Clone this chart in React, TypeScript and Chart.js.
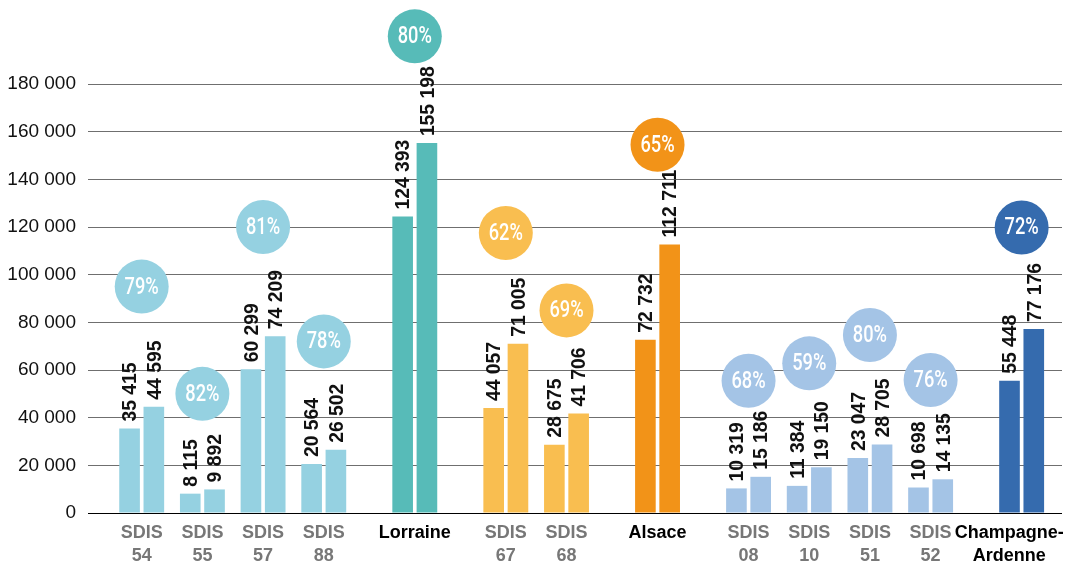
import React, { useEffect, useRef } from "react";
import { Chart, registerables } from "chart.js";

Chart.register(...registerables);

// ---- data ----
const categories = [
  "SDIS 54", "SDIS 55", "SDIS 57", "SDIS 88", "Lorraine",
  "SDIS 67", "SDIS 68", "Alsace",
  "SDIS 08", "SDIS 10", "SDIS 51", "SDIS 52", "Champagne-Ardenne",
];
const NB = "\u00A0";
const axisLabels: string[][] = [
  ["SDIS", "54"], ["SDIS", "55"], ["SDIS", "57"], ["SDIS", "88"], ["Lorraine"],
  ["SDIS", "67"], ["SDIS", "68"], ["Alsace"],
  ["SDIS", "08"], ["SDIS", "10"], ["SDIS", "51"], ["SDIS", "52"],
  ["Champagne-" + NB.repeat(5), "Ardenne" + NB.repeat(5)],
];
const isRegion = [false, false, false, false, true, false, false, true, false, false, false, false, true];
const seriesA = [35415, 8115, 60299, 20564, 124393, 44057, 28675, 72732, 10319, 11384, 23047, 10698, 55448];
const seriesB = [44595, 9892, 74209, 26502, 155198, 71005, 41706, 112711, 15186, 19150, 28705, 14135, 77176];
const rates = [79, 82, 81, 78, 80, 62, 69, 65, 68, 59, 80, 76, 72];
const bubbleLevels = [95000, 50000, 120000, 72000, 200000, 117500, 85000, 154500, 55500, 62800, 74700, 55800, 119800];
const yTickValues = [0, 20000, 40000, 60000, 80000, 100000, 120000, 140000, 160000, 180000];

// ---- layout / style ----
const slots = [0, 2, 4, 6, 9, 12, 14, 17, 20, 22, 24, 26, 29];
const groupColors = [
  "#95D1E1", "#95D1E1", "#95D1E1", "#95D1E1", "#57BBB8",
  "#F9BE50", "#F9BE50", "#F29318",
  "#A4C4E6", "#A4C4E6", "#A4C4E6", "#A4C4E6", "#356BAE",
];
const FONT = "'Liberation Sans', Arial, sans-serif";

const fmt = (v: number) => String(v).replace(/\B(?=(\d{3})+(?!\d))/g, " ");

const zeroPadding = (scale: any) => {
  scale.paddingTop = 0;
  scale.paddingBottom = 0;
  scale.paddingLeft = 0;
  scale.paddingRight = 0;
};

const overlayPlugin = {
  id: "overlay",
  afterDatasetsDraw(chart: any) {
    const ctx = chart.ctx as CanvasRenderingContext2D;
    const xs = chart.scales.x;
    const ys = chart.scales.y;
    // value labels
    ctx.save();
    ctx.fillStyle = "#111";
    ctx.font = `bold 21px ${FONT}`;
    ctx.textAlign = "left";
    ctx.textBaseline = "middle";
    chart.data.datasets.forEach((ds: any, di: number) => {
      const meta = chart.getDatasetMeta(di);
      meta.data.forEach((bar: any, i: number) => {
        const v = ds.data[i].y;
        ctx.save();
        ctx.translate(bar.x + 1, bar.y - 7);
        ctx.rotate(-Math.PI / 2);
        ctx.scale(0.92, 1);
        ctx.fillText(fmt(v), 0, 0);
        ctx.restore();
      });
    });
    ctx.restore();
    // bubbles
    ctx.save();
    slots.forEach((s, i) => {
      const cx = xs.getPixelForValue(s);
      const cy = ys.getPixelForValue(bubbleLevels[i]);
      ctx.beginPath();
      ctx.arc(cx, cy, 27, 0, Math.PI * 2);
      ctx.fillStyle = groupColors[i];
      ctx.fill();
      ctx.save();
      ctx.translate(cx, cy + 1);
      ctx.scale(0.76, 1);
      ctx.fillStyle = "#fff";
      ctx.font = `500 24px Roboto, ${FONT}`;
      ctx.textAlign = "center";
      ctx.textBaseline = "middle";
      ctx.fillText(rates[i] + "%", 0, 0);
      ctx.restore();
    });
    ctx.restore();
  },
};

export default function App() {
  const ref = useRef<HTMLCanvasElement | null>(null);
  useEffect(() => {
    document.body.style.margin = "0";
    const canvas = ref.current!;
    const chart = new Chart(canvas, {
      type: "bar",
      data: {
        datasets: [
          {
            label: "A",
            data: slots.map((s, i) => ({ x: s, y: seriesA[i] })),
            backgroundColor: groupColors,
            categoryPercentage: 0.8,
            barPercentage: 0.85,
          },
          {
            label: "B",
            data: slots.map((s, i) => ({ x: s, y: seriesB[i] })),
            backgroundColor: groupColors,
            categoryPercentage: 0.8,
            barPercentage: 0.85,
          },
        ],
      },
      options: {
        animation: false,
        responsive: false,
        layout: { padding: { top: 0, right: 5, left: 0, bottom: 0 } },
        plugins: { legend: { display: false }, tooltip: { enabled: false } },
        scales: {
          x: {
            type: "linear",
            offset: false,
            min: -1.77,
            max: 30.33,
            grid: { display: false, offset: false, drawTicks: false },
            border: { display: false },
            afterFit: (scale: any) => { scale.height = 54; zeroPadding(scale); },
            afterBuildTicks: (scale: any) => {
              scale.ticks = slots.map((s) => ({ value: s }));
            },
            ticks: {
              autoSkip: false,
              maxRotation: 0,
              minRotation: 0,
              padding: 8,
              callback: (value: any) => {
                const i = slots.indexOf(Number(value));
                return i >= 0 ? axisLabels[i] : "";
              },
              color: (c: any) => {
                const i = slots.indexOf(c.tick ? c.tick.value : -1);
                return i >= 0 && isRegion[i] ? "#000" : "#777";
              },
              font: { family: FONT, size: 18, weight: "bold", lineHeight: 1.3 },
            },
          },
          y: {
            min: 0,
            max: 215250,
            afterFit: (scale: any) => { scale.width = 88; zeroPadding(scale); },
            afterBuildTicks: (scale: any) => {
              scale.ticks = yTickValues.map((v) => ({ value: v }));
            },
            grid: {
              drawTicks: false,
              color: (c: any) => (c.tick && c.tick.value === 0 ? "#000" : "#6f6f6f"),
              lineWidth: 1,
            },
            border: { display: false },
            ticks: {
              padding: 12,
              color: "#111",
              font: { family: FONT, size: 19 },
              callback: (v: any) => fmt(Number(v)),
            },
          },
        },
      },
      plugins: [overlayPlugin],
    } as any);
    return () => chart.destroy();
  }, []);
  return <canvas ref={ref} width={1067} height={567} style={{ display: "block" }} />;
}
